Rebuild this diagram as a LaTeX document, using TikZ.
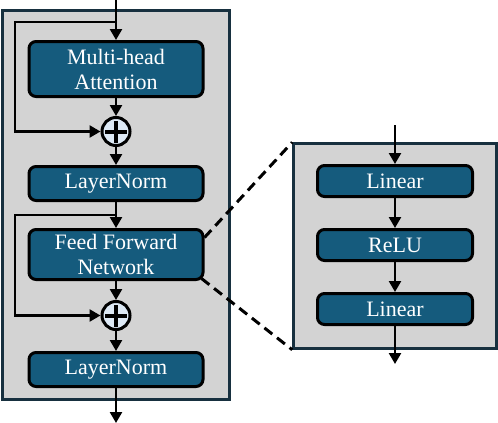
\documentclass[tikz,border=0pt]{standalone}
\usepackage{fontspec}
\setmainfont{Liberation Serif}
\usetikzlibrary{arrows.meta, positioning}

\definecolor{boxblue}{HTML}{155B7D}
\definecolor{panelgray}{HTML}{D3D3D3}
\definecolor{paneledge}{HTML}{17303F}
\definecolor{sumfill}{HTML}{DDE9F5}

\tikzset{
	block/.style={draw=black, line width=3pt, fill=boxblue, rounded corners=7pt, text=white, minimum width=174pt, align=center, inner sep=0pt, font=\fontsize{22}{25}\selectfont},
	panel/.style={draw=paneledge, line width=2.5pt, fill=panelgray},
	sum/.style={circle, draw=black, line width=3pt, fill=sumfill, minimum size=28pt, inner sep=0pt,
		path picture={
			\draw[line width=4pt] ([xshift=-11pt]path picture bounding box.center) -- ([xshift=11pt]path picture bounding box.center);
			\draw[line width=4pt] ([yshift=-11pt]path picture bounding box.center) -- ([yshift=11pt]path picture bounding box.center);
		}},
	flow/.style={-{Triangle[length=11pt,width=12pt]}, line width=2.5pt},
	zoomline/.style={line width=3pt, dash pattern=on 10pt off 6pt},
}

\begin{document}
\begin{tikzpicture}[x=1pt, y=-1pt, node distance=18pt]
	\useasboundingbox (0,0) rectangle (498,423);

	\node [panel, minimum width=227pt, minimum height=389pt]	(enc)		at (116,205)	{};
	\node [panel, minimum width=203pt, minimum height=205pt]	(ffnzoom)	at (395,246)	{};

	\node [block, minimum height=55pt]	(mha)	at (116,69)				{Multi-head\\Attention};
	\node [sum]							(add1)	[below=of mha]			{};
	\node [block, minimum height=34pt]	(norm1)	[below=of add1]			{LayerNorm};
	\node [block, minimum height=50pt]	(ffn)	[below=26pt of norm1]	{Feed Forward\\Network};
	\node [sum]							(add2)	[below=19pt of ffn]		{};
	\node [block, minimum height=34pt]	(norm2)	[below=20pt of add2]	{LayerNorm};

	\node [block, minimum width=155pt, minimum height=31pt]	(lin1)	at (395,181)			{Linear};
	\node [block, minimum width=155pt, minimum height=31pt]	(relu)	[below=30pt of lin1]	{ReLU};
	\node [block, minimum width=155pt, minimum height=31pt]	(lin2)	[below=30pt of relu]	{Linear};

	\coordinate (in)		at (116,0);
	\coordinate (split1)	at (116,22);
	\coordinate (split2)	at (116,215);
	\coordinate (out)		at (116,423);
	\coordinate (ffnin)		at (395,125);
	\coordinate (ffnout)	at (395,364);

	\draw[flow] (in) -- (mha);
	\draw[flow] (split1) -- ++(-101,0) |- (add1);
	\draw[flow] (mha) -- (add1);
	\draw[flow] (add1) -- (norm1);
	\draw[flow] (norm1) -- (ffn);
	\draw[flow] (split2) -- ++(-101,0) |- (add2);
	\draw[flow] (ffn) -- (add2);
	\draw[flow] (add2) -- (norm2);
	\draw[flow] (norm2) -- (out);

	\draw[flow] (ffnin) -- (lin1);
	\draw[flow] (lin1) -- (relu);
	\draw[flow] (relu) -- (lin2);
	\draw[flow] (lin2) -- (ffnout);

	\draw[zoomline] ([yshift=17pt]ffn.east) -- (ffnzoom.north west);
	\draw[zoomline] ([xshift=-3pt, yshift=-24pt]ffn.east) -- (ffnzoom.south west);
\end{tikzpicture}
\end{document}
